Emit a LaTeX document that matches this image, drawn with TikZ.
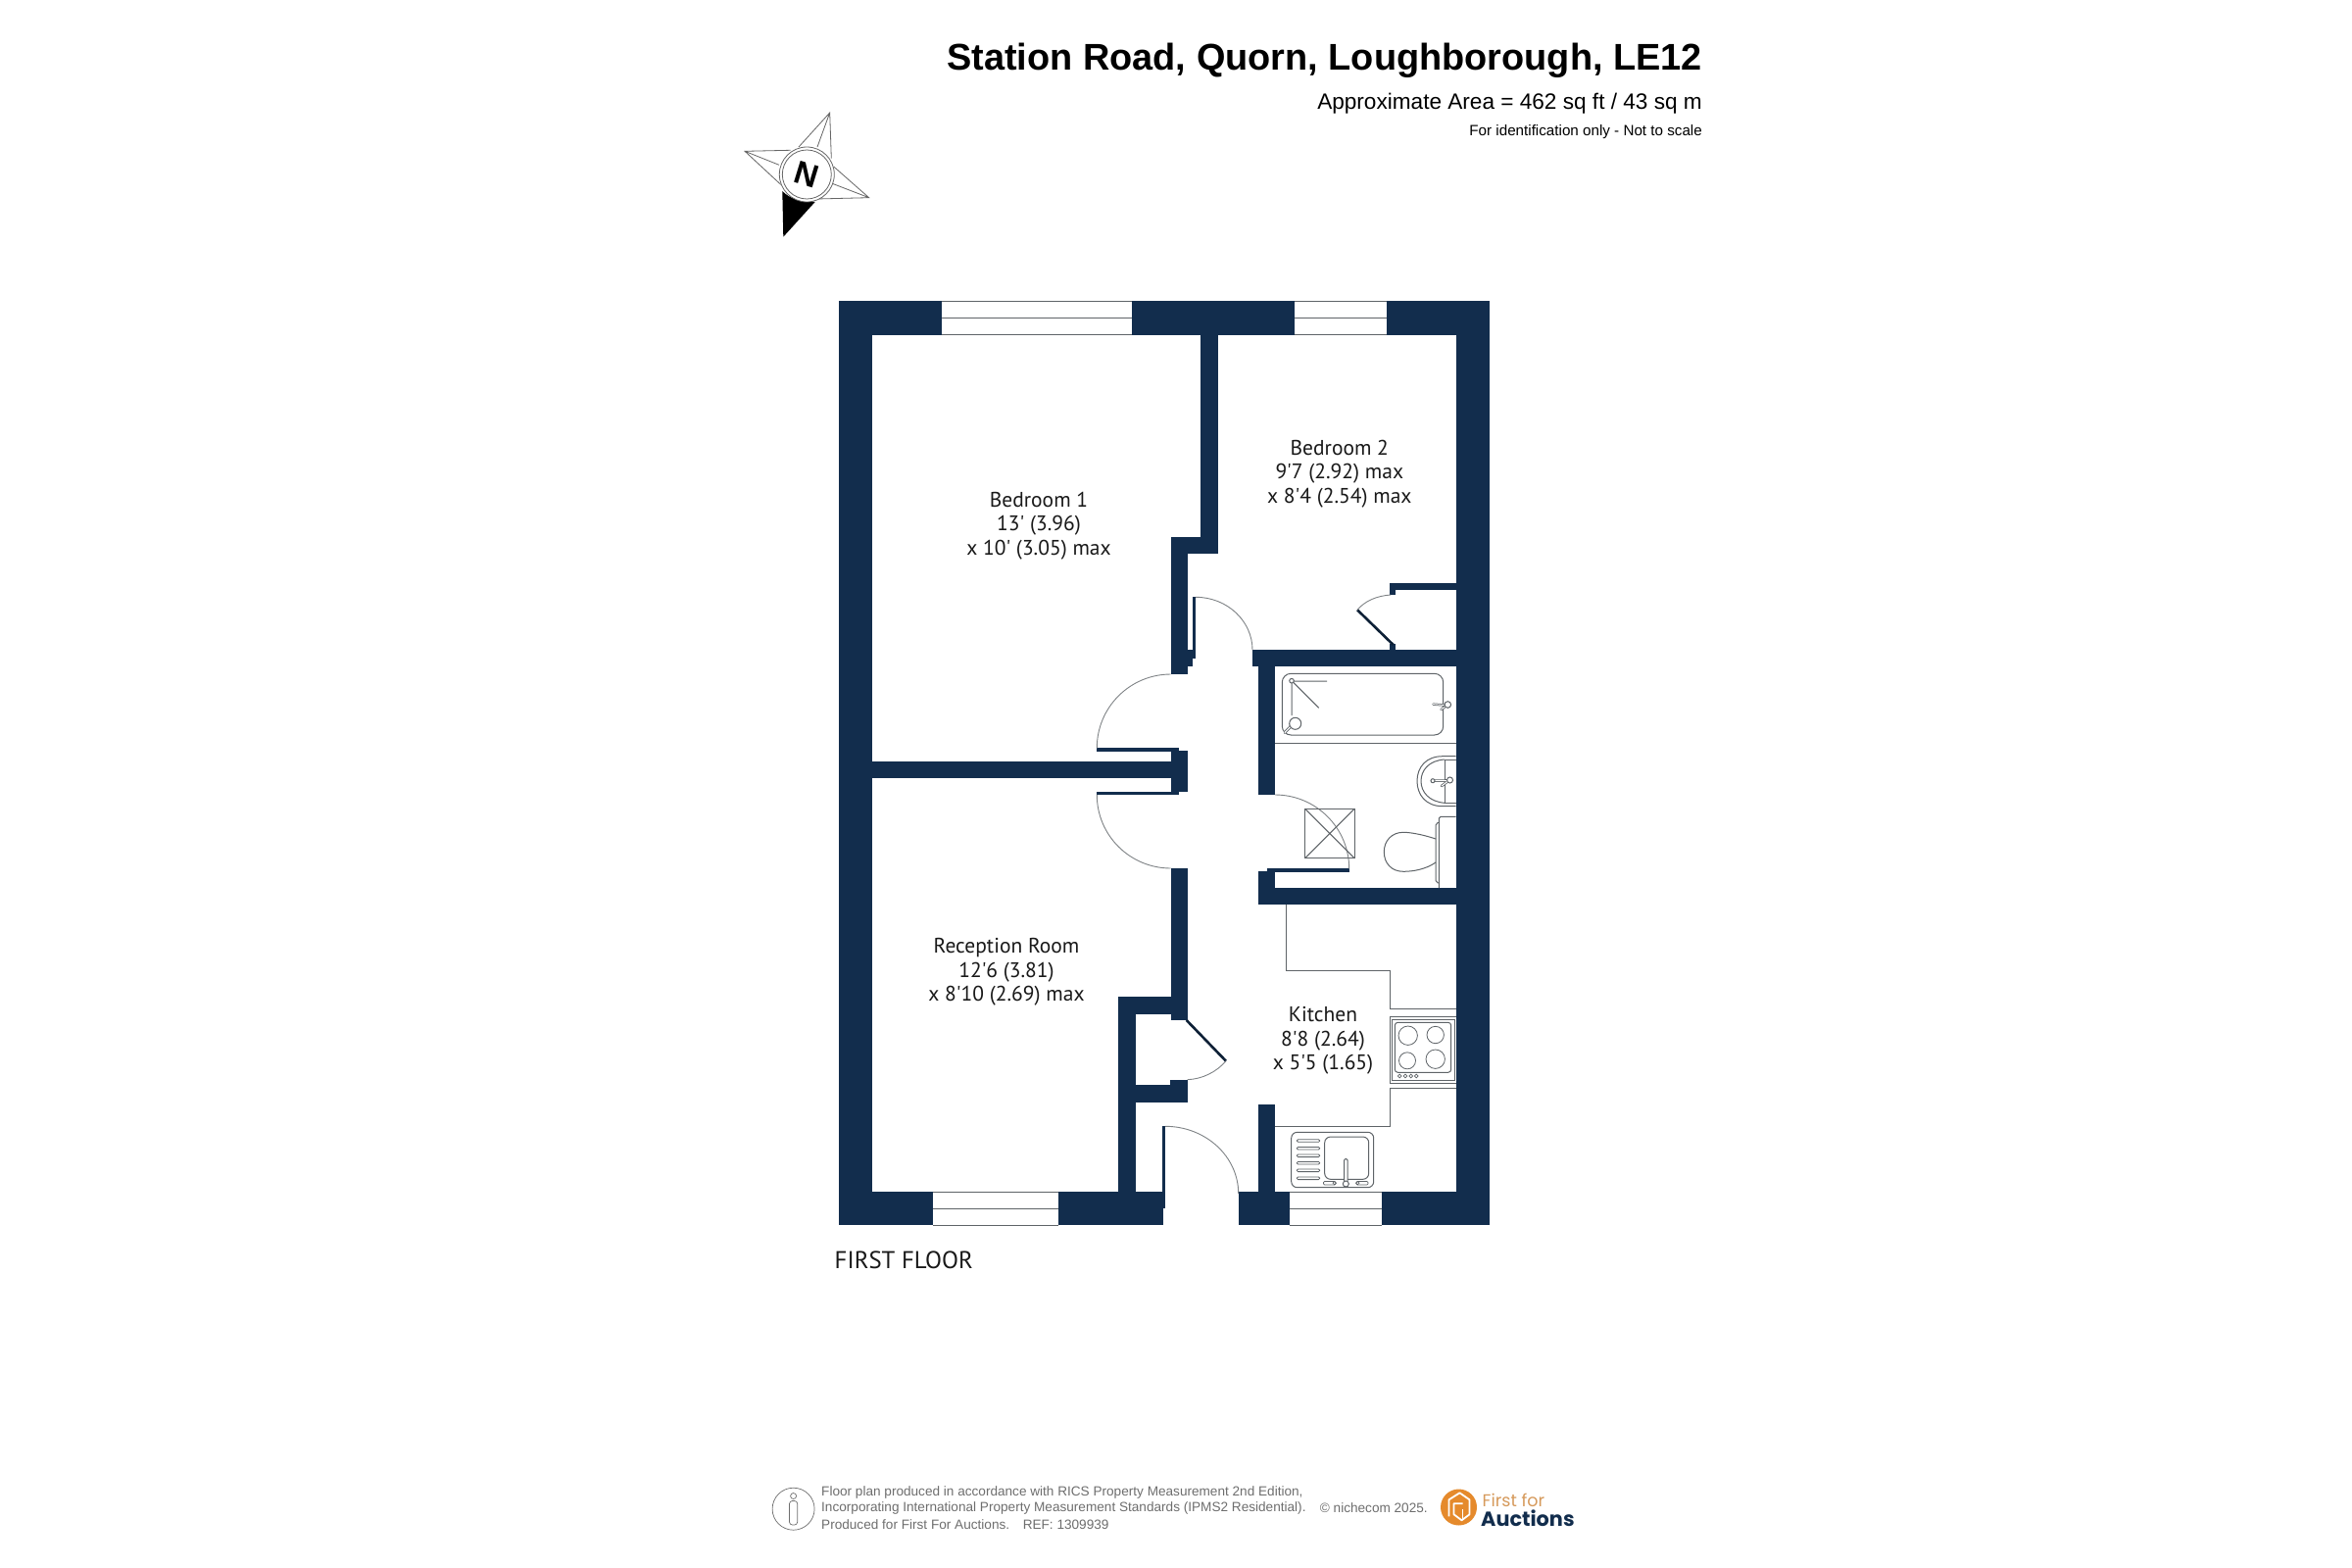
\documentclass[tikz,border=0pt]{standalone}
\usepackage{fontspec}
\setmainfont{Liberation Sans}
\newfontfamily\roomfont{PT Sans}
\newfontfamily\logofont{Poppins}
\definecolor{wallc}{HTML}{122D4D}
\definecolor{linec}{HTML}{5F6468}
\definecolor{footc}{HTML}{6E6E6E}
\definecolor{logoo}{HTML}{E58A2C}
\definecolor{logot}{HTML}{D69A5C}
\tikzset{
  wall/.style={fill=wallc,draw=none},
  win/.style={fill=white,draw=linec,line width=1pt},
  fix/.style={draw=linec,line width=1pt,fill=none},
  swing/.style={draw=linec!80,line width=0.9pt,fill=none},
  leaf/.style={draw=wallc!70!black,line width=2.6pt},
  room/.style={font=\roomfont\fontsize{21.5}{24.6}\selectfont,align=center,inner sep=0pt,text=black!90},
  foot/.style={font=\fontsize{13.6}{16}\selectfont,text=footc,anchor=west,inner sep=0pt},
  compass/.style={draw=black!60,line width=0.8pt}
}
\begin{document}
\begin{tikzpicture}[x=1pt,y=-1pt]
\useasboundingbox (0,0) rectangle (2400,1600);
\fill[white] (0,0) rectangle (2400,1600);
% header
\node[anchor=east,inner sep=0pt,font=\bfseries\fontsize{37.9}{40}\selectfont] (title) at (1737,62) {Station Road, Quorn, Loughborough, LE12};
\node[anchor=east,inner sep=0pt,font=\fontsize{22.6}{24}\selectfont] (area) at (1737,106) {Approximate Area = 462 sq ft / 43 sq m};
\node[anchor=east,inner sep=0pt,font=\fontsize{15.2}{16}\selectfont] (note) at (1737,134.5) {For identification only - Not to scale};
% compass
\draw[compass] (815,150) -- (846.7,115) -- (848.3,161.7) (834,150) -- (846.7,115);
\draw[compass] (806.7,153.3) -- (760,154.3) -- (796.7,188.3) (795,168.3) -- (760,154.3);
\draw[compass] (850.7,170) -- (886.7,201.7) -- (833,203) (849.3,187.3) -- (886.7,201.7);
\fill[black] (798.3,195) -- (799.3,241.7) -- (831.7,206) .. controls (818,206) and (806,203) .. (798.3,195);
\draw[compass,fill=white] (823.3,178) circle[radius=28pt];
\draw[compass] (823.3,178) circle[radius=25pt];
\node[rotate=-17,inner sep=0pt,font=\bfseries\fontsize{33}{33}\selectfont] (north) at (823.3,178.5) {N};
% outer walls
\fill[wall] (855.6,307.3) rectangle (1520,341.7);
\fill[wall] (855.6,307.3) rectangle (889.8,1250);
\fill[wall] (1485.8,307.3) rectangle (1520,1250);
\fill[wall] (855.6,1216) rectangle (1189,1233);
\fill[wall] (855.6,1233) rectangle (1186.5,1250);
\fill[wall] (1263.7,1216) rectangle (1520,1250);
% bedroom partition and door jamb
\fill[wall] (1224.8,341) rectangle (1242.7,565);
\fill[wall] (1194.7,548) rectangle (1242.7,565);
\fill[wall] (1194.7,548) rectangle (1211.7,688);
\fill[wall] (1211,662.7) rectangle (1220,671.7);
\fill[wall] (1211,671.7) rectangle (1217.3,680);
\fill[wall] (1216.7,609.3) rectangle (1220,663);
% wall between bedroom 1 and reception
\fill[wall] (889,776.7) rectangle (1195,794.3);
\fill[wall] (1194.7,766) rectangle (1211.7,808.3);
\fill[wall] (1119.3,763.3) rectangle (1203.3,766.7);
\fill[wall] (1119.3,808) rectangle (1203.3,811);
% hall wall, cupboard
\fill[wall] (1194.7,886) rectangle (1211.7,1041);
\fill[wall] (1140.7,1017.3) rectangle (1211.7,1035);
\fill[wall] (1140.7,1017.3) rectangle (1159,1216);
\fill[wall] (1194.3,1101.7) rectangle (1211.7,1125);
\fill[wall] (1140.7,1107.3) rectangle (1211.7,1125);
\fill[wall] (1186,1149.3) rectangle (1189,1216);
% bathroom walls
\fill[wall] (1278.3,662.7) rectangle (1486,680);
\fill[wall] (1284,680) rectangle (1301,810.7);
\fill[wall] (1284,889.3) rectangle (1301,923.3);
\fill[wall] (1284,906) rectangle (1486,923.3);
\fill[wall] (1292.7,886.3) rectangle (1376.7,889.7);
% kitchen stub
\fill[wall] (1284,1126.7) rectangle (1301,1216);
% bedroom 2 cupboard
\fill[wall] (1418.3,595) rectangle (1486,601.7);
\fill[wall] (1418.3,595) rectangle (1424,607);
\fill[wall] (1418.3,656.7) rectangle (1424,662.7);
\draw[leaf] (1421.7,658) -- (1385,622.3);
\draw[leaf] (1210.7,1041) -- (1251,1082.7);
% windows
\foreach \xa/\xb/\ya/\ym/\yb in {960.5/1155/307.3/324.3/341.5,1320.8/1415.4/307.3/324.3/341.5,952/1080/1216.5/1233.3/1250,1315.7/1409.7/1216.5/1233.3/1250}{
  \fill[white] (\xa,\ya) rectangle (\xb,\yb);
  \draw[linec,line width=1pt] (\xa,\ya) -- (\xb,\ya) (\xa,\ym) -- (\xb,\ym) (\xa,\yb) -- (\xb,\yb);
}
% door swings
\draw[swing] (1220,609.3) arc[start angle=90,end angle=0,x radius=58pt,y radius=54pt];
\draw[swing] (1194.7,688) arc[start angle=90,end angle=180,x radius=75.4pt,y radius=75.3pt];
\draw[swing] (1119.3,811) arc[start angle=180,end angle=270,x radius=75.4pt,y radius=75pt];
\draw[swing] (1301,811) arc[start angle=90,end angle=0,x radius=75.7pt,y radius=75.7pt];
\draw[swing] (1189,1149.3) arc[start angle=90,end angle=0,x radius=74.7pt,y radius=68.7pt];
\draw[swing] (1251,1082.7) .. controls (1241,1094) and (1227,1101) .. (1211.7,1101.7);
\draw[swing] (1385,622.3) .. controls (1393,613) and (1405,608) .. (1419,607);
% bath
\draw[fix] (1301,758) -- (1486,758);
\draw[fix,rounded corners=9pt] (1308.3,687.3) rectangle (1472.7,750);
\draw[fix,fill=white] (1318,694.7) circle[radius=2.3pt];
\draw[fix] (1320.3,695) -- (1354,695) (1319.7,696.4) -- (1345.7,722.3) (1318,697) -- (1318,730);
\draw[fix,line width=2.8pt,line cap=round] (1311,747.5) -- (1320,738);
\draw[white,line width=1.1pt,line cap=round] (1311,747.5) -- (1320,738);
\draw[fix,fill=white] (1321.7,738.3) circle[radius=6pt];
\draw[fix,line width=2.4pt,line cap=round] (1462.5,718.6) -- (1474,719.5) (1470.5,724) -- (1476,720);
\draw[white,line width=.9pt,line cap=round] (1462.5,718.6) -- (1474,719.5) (1470.5,724) -- (1476,720);
\draw[fix,fill=white] (1477.3,719) circle[radius=3.3pt];
% basin
\draw[fix] (1485.7,771.7) -- (1472,771.7) .. controls (1455,771.7) and (1446,783) .. (1446,797) .. controls (1446,811) and (1455,822.7) .. (1472,822.7) -- (1485.7,822.7);
\draw[fix] (1485.7,775) -- (1474,775) -- (1474,819.3) -- (1485.7,819.3);
\draw[fix] (1474,775) .. controls (1458,776) and (1450,786) .. (1450,797) .. controls (1450,808) and (1458,818) .. (1474,819.3);
\draw[fix,line width=2.6pt,line cap=round] (1462.5,796.7) -- (1478,796.5) (1471,802) -- (1477,797.5);
\draw[white,line width=1pt,line cap=round] (1462.5,796.7) -- (1478,796.5) (1471,802) -- (1477,797.5);
\draw[fix,fill=white] (1479.5,796) circle[radius=3pt];
\draw[fix,fill=white] (1462,796.7) circle[radius=2pt];
% toilet
\draw[fix] (1468.3,906) -- (1468.3,835) -- (1470,833.3) -- (1485.7,833.3);
\draw[fix,rounded corners=2pt] (1468.3,839.3) -- (1465,840) -- (1465,900.5) -- (1468.3,901);
\draw[fix] (1465,856) .. controls (1450,851) and (1438,849.3) .. (1432,849.3) .. controls (1420,849.3) and (1412.3,858) .. (1412.3,869.3) .. controls (1412.3,881) and (1420,889.3) .. (1432,889.3) .. controls (1442,889.3) and (1455,887) .. (1465,880);
% vent
\draw[fix] (1331.7,825.3) rectangle (1382,875.7);
\draw[fix] (1331.7,825.3) -- (1382,875.7) (1331.7,875.7) -- (1382,825.3);
% kitchen counter
\draw[fix] (1312.7,923.3) -- (1312.7,990) -- (1418.3,990) -- (1418.3,1029.3) -- (1485.7,1029.3);
\draw[fix] (1485.7,1110.7) -- (1418.3,1110.7) -- (1418.3,1149.3) -- (1301,1149.3);
% hob
\draw[fix] (1485.7,1037.7) -- (1418.3,1037.7) -- (1418.3,1105.7) -- (1485.7,1105.7);
\draw[fix] (1420.7,1040) rectangle (1484,1102.3);
\draw[fix,rounded corners=3pt] (1423.3,1043.3) rectangle (1480.7,1094.3);
\draw[fix,line width=.8pt] (1436.7,1056.7) circle[radius=9.7pt] (1464.7,1056) circle[radius=8.7pt] (1436,1082.3) circle[radius=8.5pt] (1464.7,1080.7) circle[radius=9.7pt];
\draw[fix,line width=.7pt] (1428.3,1098) circle[radius=1.9pt] (1434,1098) circle[radius=1.9pt] (1439.7,1098) circle[radius=1.9pt] (1445.3,1098) circle[radius=1.9pt];
% sink
\draw[fix,rounded corners=6pt] (1317.7,1155.3) rectangle (1401.7,1211.7);
\draw[fix,rounded corners=6pt] (1351.7,1160) rectangle (1396.7,1203.3);
\foreach \yy in {1164,1171.7,1179.3,1186.7,1194.3,1202.3}{
  \draw[fix,line width=.8pt,rounded corners=1.2pt] (1323.3,\yy-1.3) rectangle (1346.7,\yy+1.3);
}
\fill[white] (1371.5,1182) rectangle (1375.2,1205);
\draw[fix,rounded corners=1.5pt] (1371.7,1205) -- (1371.7,1182.3) -- (1375,1182.3) -- (1375,1205);
\draw[fix,fill=white] (1373.3,1208) circle[radius=3pt];
\draw[fix,line width=.7pt,rounded corners=1.2pt] (1350.5,1205.5) rectangle (1363,1209);
\draw[fix,line width=.7pt,rounded corners=1.2pt] (1384,1205.5) rectangle (1396,1209);
\draw[fix,line width=.7pt] (1361.7,1207.2) circle[radius=1.7pt] (1385.3,1207.2) circle[radius=1.7pt];
% room labels
\node[room] (bed1) at (1060,536.5) {Bedroom 1\\13' (3.96)\\x 10' (3.05) max};
\node[room] (bed2) at (1366.8,483.5) {Bedroom 2\\9'7 (2.92) max\\x 8'4 (2.54) max};
\node[room] (recep) at (1027,992) {Reception Room\\12'6 (3.81)\\x 8'10 (2.69) max};
\node[room] (kitch) at (1350,1062) {Kitchen\\8'8 (2.64)\\x 5'5 (1.65)};
\node[anchor=west,inner sep=0pt,font=\roomfont\fontsize{24.8}{26}\selectfont,text=black!90] (floor) at (851.5,1286) {FIRST FLOOR};
% footer
\draw[footc,line width=.7pt] (809.6,1539.7) circle[radius=21.5pt];
\draw[footc,line width=.7pt] (809.6,1526.5) circle[radius=3pt];
\draw[footc,line width=.7pt,rounded corners=3pt] (805.5,1531.5) rectangle (813.7,1556);
\node[foot] (f1) at (838,1522.7) {Floor plan produced in accordance with RICS Property Measurement 2nd Edition,};
\node[foot] (f2) at (838,1538.7) {Incorporating International Property Measurement Standards (IPMS2 Residential).};
\node[foot] (f3) at (838,1556) {Produced for First For Auctions.\quad REF: 1309939};
\node[foot] (f4) at (1346.7,1538.7) {© nichecom 2025.};
% logo
\fill[logoo] (1488.5,1538) circle[radius=18.5pt];
\draw[white,line width=1.8pt,line join=round] (1478.5,1547.3) -- (1478.5,1530.3) -- (1489.5,1523.3) -- (1499.5,1530.3) -- (1499.5,1545.3) -- (1491.5,1551.3) -- (1483.5,1545.3) -- (1483.5,1534.3) -- (1492.5,1534.3);
\draw[white,line width=1.8pt] (1492.5,1540.3) -- (1492.5,1551.3);
\node[anchor=west,inner sep=0pt,font=\logofont\fontsize{17.5}{18}\selectfont,text=logot] (ff) at (1512.5,1531) {First for};
\node[anchor=west,inner sep=0pt,font=\logofont\bfseries\fontsize{20.8}{21}\selectfont,text=wallc] (fa) at (1511,1549.5) {Auctions};
\end{tikzpicture}
\end{document}
